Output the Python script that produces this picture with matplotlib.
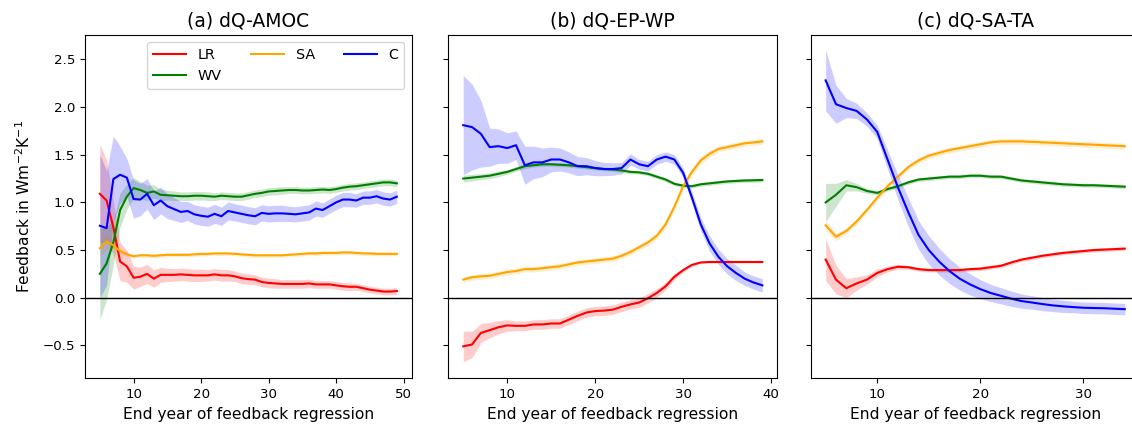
import numpy as np
import matplotlib
matplotlib.use("Agg")
import matplotlib.pyplot as plt
from matplotlib.ticker import MultipleLocator

# end year of feedback regression for each experiment
years_a = np.arange(5, 50)
years_b = np.arange(5, 40)
years_c = np.arange(5, 35)

# (a) dQ-AMOC
lr_a = [1.09, 1.02, 0.74, 0.38, 0.33, 0.21, 0.22, 0.25, 0.20, 0.24, 0.24, 0.24, 0.245, 0.24, 0.235,
        0.235, 0.235, 0.245, 0.235, 0.235, 0.225, 0.205, 0.195, 0.19, 0.165, 0.155, 0.15, 0.145, 0.145,
        0.145, 0.145, 0.15, 0.14, 0.14, 0.14, 0.13, 0.12, 0.115, 0.115, 0.10, 0.085, 0.075, 0.065,
        0.065, 0.07]
wv_a = [0.25, 0.36, 0.58, 0.92, 1.06, 1.15, 1.13, 1.10, 1.115, 1.08, 1.075, 1.07, 1.065, 1.065, 1.07,
        1.07, 1.065, 1.06, 1.07, 1.065, 1.06, 1.06, 1.075, 1.09, 1.10, 1.115, 1.12, 1.125, 1.13, 1.13,
        1.125, 1.125, 1.13, 1.135, 1.13, 1.14, 1.155, 1.165, 1.17, 1.18, 1.19, 1.20, 1.21, 1.21, 1.20]
sa_a = [0.52, 0.59, 0.55, 0.49, 0.455, 0.435, 0.445, 0.445, 0.44, 0.445, 0.45, 0.45, 0.45, 0.45, 0.455,
        0.46, 0.46, 0.465, 0.465, 0.465, 0.46, 0.455, 0.45, 0.445, 0.445, 0.445, 0.445, 0.445, 0.45,
        0.455, 0.46, 0.465, 0.465, 0.47, 0.47, 0.47, 0.475, 0.475, 0.47, 0.465, 0.465, 0.46, 0.46,
        0.46, 0.46]
c_a = [0.755, 0.73, 1.245, 1.29, 1.26, 1.035, 1.03, 1.09, 0.97, 1.02, 0.96, 0.93, 0.90, 0.91, 0.875,
       0.86, 0.85, 0.88, 0.855, 0.91, 0.895, 0.88, 0.865, 0.855, 0.89, 0.88, 0.885, 0.885, 0.88, 0.875,
       0.885, 0.895, 0.935, 0.92, 0.96, 1.0, 1.03, 1.03, 1.02, 1.05, 1.05, 1.065, 1.04, 1.03, 1.06]
lr_a_err = [0.52, 0.42, 0.28, 0.2, 0.17, 0.12, 0.1, 0.1, 0.09, 0.08, 0.07, 0.065, 0.065, 0.065, 0.065,
            0.065, 0.06, 0.06, 0.06, 0.06, 0.055, 0.055, 0.055, 0.05, 0.05, 0.05, 0.05, 0.045, 0.045,
            0.045, 0.045, 0.045, 0.04, 0.04, 0.04, 0.04, 0.04, 0.04, 0.035, 0.035, 0.035, 0.035, 0.035,
            0.035, 0.035]
wv_a_err = [0.48, 0.38, 0.23, 0.18, 0.13, 0.11, 0.09, 0.08, 0.07, 0.06, 0.05, 0.05, 0.045, 0.045, 0.045,
            0.045, 0.045, 0.04, 0.04, 0.04, 0.04, 0.04, 0.04, 0.04, 0.04, 0.04, 0.04, 0.04, 0.035, 0.035,
            0.035, 0.035, 0.035, 0.035, 0.035, 0.035, 0.035, 0.035, 0.035, 0.035, 0.035, 0.035, 0.035,
            0.035, 0.035]
sa_a_err = [0.09, 0.08, 0.05, 0.03, 0.025, 0.02, 0.02, 0.02, 0.02, 0.02, 0.02, 0.02, 0.02, 0.02, 0.02,
            0.02, 0.02, 0.02, 0.02, 0.02, 0.02, 0.02, 0.02, 0.02, 0.02, 0.02, 0.02, 0.02, 0.02, 0.02,
            0.02, 0.02, 0.02, 0.02, 0.02, 0.02, 0.02, 0.02, 0.02, 0.02, 0.02, 0.02, 0.02, 0.02, 0.02]
c_a_err = [0.75, 0.6, 0.45, 0.3, 0.2, 0.2, 0.17, 0.16, 0.15, 0.14, 0.13, 0.12, 0.11, 0.1, 0.1, 0.1,
           0.1, 0.1, 0.095, 0.095, 0.09, 0.09, 0.09, 0.09, 0.085, 0.085, 0.085, 0.085, 0.08, 0.08, 0.08,
           0.08, 0.08, 0.075, 0.075, 0.075, 0.075, 0.075, 0.07, 0.07, 0.07, 0.07, 0.07, 0.07, 0.07]

# (b) dQ-EP-WP
lr_b = [-0.51, -0.49, -0.37, -0.34, -0.31, -0.29, -0.295, -0.295, -0.28, -0.28, -0.27, -0.27, -0.23,
        -0.19, -0.155, -0.14, -0.135, -0.125, -0.095, -0.07, -0.05, -0.005, 0.05, 0.12, 0.22, 0.29,
        0.345, 0.37, 0.375, 0.375, 0.375, 0.375, 0.375, 0.375, 0.375]
wv_b = [1.25, 1.26, 1.27, 1.28, 1.30, 1.32, 1.35, 1.38, 1.39, 1.40, 1.40, 1.395, 1.39, 1.38, 1.37,
        1.36, 1.35, 1.345, 1.335, 1.32, 1.315, 1.30, 1.27, 1.24, 1.195, 1.175, 1.17, 1.19, 1.20, 1.21,
        1.22, 1.225, 1.23, 1.232, 1.235]
sa_b = [0.19, 0.215, 0.225, 0.23, 0.25, 0.27, 0.28, 0.30, 0.30, 0.31, 0.32, 0.33, 0.35, 0.37, 0.38,
        0.39, 0.40, 0.41, 0.44, 0.48, 0.53, 0.58, 0.65, 0.77, 0.955, 1.17, 1.32, 1.44, 1.51, 1.56, 1.58,
        1.60, 1.62, 1.63, 1.64]
c_b = [1.81, 1.79, 1.72, 1.58, 1.59, 1.57, 1.60, 1.39, 1.42, 1.42, 1.45, 1.45, 1.42, 1.38, 1.38, 1.36,
       1.35, 1.35, 1.36, 1.45, 1.40, 1.38, 1.45, 1.48, 1.45, 1.31, 1.05, 0.77, 0.57, 0.43, 0.33, 0.26,
       0.20, 0.16, 0.13]
lr_b_err = [0.16, 0.14, 0.1, 0.08, 0.07, 0.06, 0.05, 0.05, 0.05, 0.05, 0.05, 0.05, 0.05, 0.05, 0.05,
            0.05, 0.05, 0.05, 0.05, 0.05, 0.05, 0.05, 0.045, 0.04, 0.03, 0.02, 0.015, 0.01, 0.01, 0.01,
            0.01, 0.01, 0.01, 0.01, 0.01]
wv_b_err = [0.035, 0.035, 0.03, 0.03, 0.03, 0.025, 0.025, 0.025, 0.02, 0.02, 0.02, 0.02, 0.02, 0.02,
            0.02, 0.02, 0.02, 0.02, 0.02, 0.02, 0.02, 0.02, 0.02, 0.02, 0.02, 0.02, 0.02, 0.02, 0.02,
            0.02, 0.02, 0.02, 0.02, 0.02, 0.02]
sa_b_err = [0.03, 0.03, 0.03, 0.03, 0.03, 0.03, 0.03, 0.03, 0.03, 0.03, 0.03, 0.03, 0.03, 0.03, 0.03,
            0.03, 0.03, 0.03, 0.03, 0.03, 0.03, 0.035, 0.035, 0.04, 0.04, 0.04, 0.04, 0.04, 0.035, 0.03,
            0.03, 0.03, 0.03, 0.03, 0.03]
c_b_err = [0.52, 0.45, 0.35, 0.2, 0.18, 0.16, 0.15, 0.2, 0.17, 0.15, 0.13, 0.12, 0.11, 0.1, 0.09, 0.08,
           0.07, 0.065, 0.06, 0.06, 0.05, 0.05, 0.05, 0.05, 0.05, 0.05, 0.06, 0.07, 0.08, 0.08, 0.08,
           0.08, 0.07, 0.07, 0.07]

# (c) dQ-SA-TA
lr_c = [0.40, 0.19, 0.10, 0.15, 0.19, 0.26, 0.30, 0.325, 0.32, 0.30, 0.29, 0.29, 0.29, 0.29, 0.30,
        0.305, 0.32, 0.335, 0.37, 0.40, 0.42, 0.44, 0.455, 0.47, 0.48, 0.49, 0.50, 0.505, 0.51, 0.515]
wv_c = [1.0, 1.08, 1.18, 1.16, 1.12, 1.10, 1.14, 1.17, 1.21, 1.24, 1.25, 1.26, 1.27, 1.27, 1.28, 1.28,
        1.27, 1.27, 1.25, 1.23, 1.22, 1.21, 1.20, 1.19, 1.185, 1.18, 1.18, 1.175, 1.17, 1.165]
sa_c = [0.76, 0.64, 0.70, 0.80, 0.92, 1.05, 1.17, 1.27, 1.37, 1.44, 1.49, 1.52, 1.55, 1.57, 1.59, 1.61,
        1.63, 1.64, 1.64, 1.64, 1.635, 1.63, 1.625, 1.62, 1.615, 1.61, 1.605, 1.60, 1.595, 1.59]
c_c = [2.28, 2.03, 1.99, 1.96, 1.87, 1.74, 1.45, 1.16, 0.90, 0.66, 0.50, 0.38, 0.28, 0.20, 0.14, 0.09,
       0.05, 0.02, -0.01, -0.035, -0.05, -0.066, -0.08, -0.09, -0.098, -0.105, -0.108, -0.11, -0.115,
       -0.12]
lr_c_err = [0.22, 0.15, 0.1, 0.07, 0.05, 0.04, 0.03, 0.025, 0.02, 0.02, 0.02, 0.02, 0.02, 0.02, 0.02,
            0.02, 0.02, 0.02, 0.02, 0.02, 0.02, 0.02, 0.02, 0.02, 0.02, 0.02, 0.02, 0.02, 0.02, 0.02]
wv_c_err = [0.2, 0.12, 0.06, 0.04, 0.025, 0.02, 0.02, 0.02, 0.02, 0.02, 0.02, 0.02, 0.02, 0.02, 0.02,
            0.02, 0.02, 0.02, 0.02, 0.02, 0.02, 0.02, 0.02, 0.02, 0.02, 0.02, 0.02, 0.02, 0.02, 0.02]
sa_c_err = [0.05, 0.04, 0.03, 0.03, 0.03, 0.03, 0.03, 0.03, 0.03, 0.03, 0.03, 0.03, 0.03, 0.03, 0.03,
            0.03, 0.03, 0.03, 0.03, 0.03, 0.03, 0.03, 0.03, 0.03, 0.03, 0.03, 0.03, 0.03, 0.03, 0.03]
c_c_err = [0.32, 0.2, 0.1, 0.08, 0.07, 0.07, 0.1, 0.13, 0.15, 0.15, 0.15, 0.14, 0.13, 0.12, 0.11, 0.1,
           0.09, 0.085, 0.08, 0.075, 0.07, 0.07, 0.065, 0.065, 0.06, 0.06, 0.06, 0.06, 0.06, 0.06]

titles = ["(a) dQ-AMOC", "(b) dQ-EP-WP", "(c) dQ-SA-TA"]
names = ["LR", "WV", "SA", "C"]
colors = ["red", "green", "orange", "blue"]

panels = [
    (years_a, [lr_a, wv_a, sa_a, c_a], [lr_a_err, wv_a_err, sa_a_err, c_a_err]),
    (years_b, [lr_b, wv_b, sa_b, c_b], [lr_b_err, wv_b_err, sa_b_err, c_b_err]),
    (years_c, [lr_c, wv_c, sa_c, c_c], [lr_c_err, wv_c_err, sa_c_err, c_c_err]),
]

W, H = 1132, 430
fig = plt.figure(figsize=(W / 100, H / 100), dpi=100)
lefts = [85, 448.3, 810.7]
widths = [326.7, 329, 329]
axes = []
for i in range(3):
    ax = fig.add_axes([lefts[i] / W, (H - 378.3) / H, widths[i] / W, (378.3 - 35) / H],
                      sharey=axes[0] if axes else None)
    axes.append(ax)

for i, ax in enumerate(axes):
    yrs, vals, errs = panels[i]
    for name, col, v, e in zip(names, colors, vals, errs):
        v = np.array(v)
        e = np.array(e)
        ax.fill_between(yrs, v - e, v + e, color=col, alpha=0.2, linewidth=0)
        ax.plot(yrs, v, color=col, lw=1.5, label=name)
    ax.axhline(0, color="black", lw=1)
    ax.set_title(titles[i], fontsize=13.5)
    ax.set_xlabel("End year of feedback regression", fontsize=11.2)
    ax.xaxis.set_major_locator(MultipleLocator(10))
    ax.tick_params(labelsize=9.6)
    if i > 0:
        ax.tick_params(labelleft=False)

axes[0].set_ylim(-0.845, 2.756)
axes[0].set_yticks([-0.5, 0, 0.5, 1.0, 1.5, 2.0, 2.5])
axes[0].set_ylabel("Feedback in Wm$^{-2}$K$^{-1}$", fontsize=11.2, labelpad=7)
axes[0].legend(loc="upper right", ncol=3, fontsize=10.4, handlelength=2.3)

fig.savefig("out.png", dpi=100)
